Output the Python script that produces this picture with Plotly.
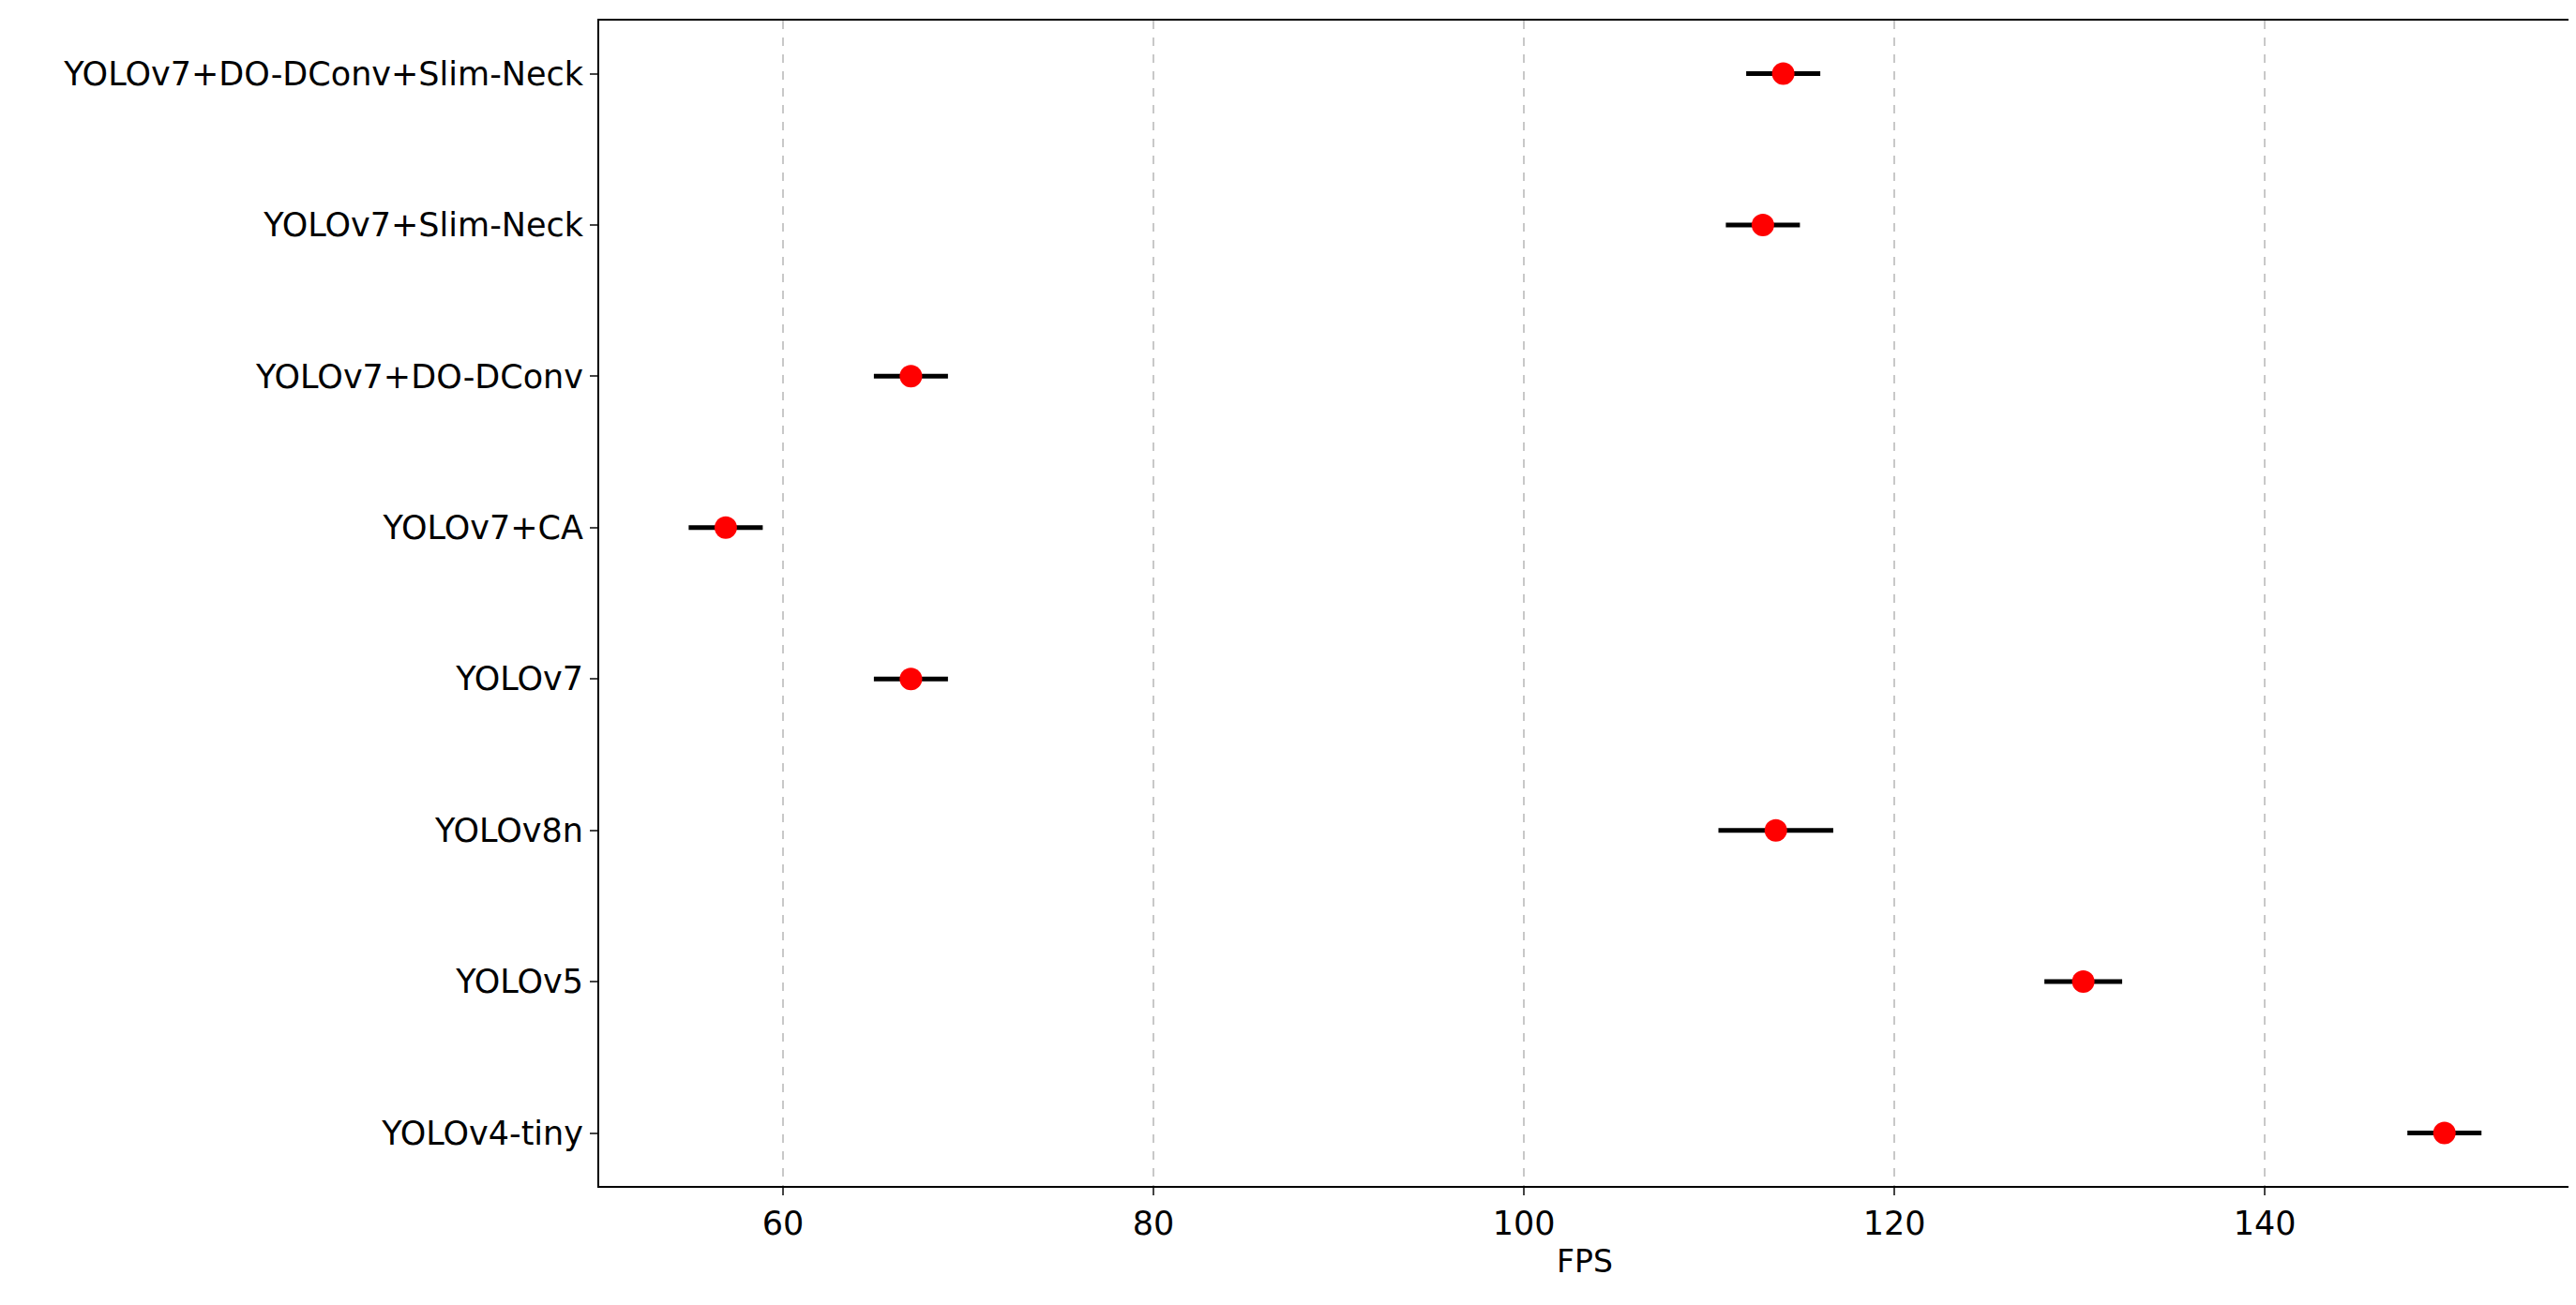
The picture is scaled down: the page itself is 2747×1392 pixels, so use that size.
import plotly.graph_objects as go

models = ["YOLOv4-tiny", "YOLOv5", "YOLOv8n", "YOLOv7", "YOLOv7+CA",
          "YOLOv7+DO-DConv", "YOLOv7+Slim-Neck", "YOLOv7+DO-DConv+Slim-Neck"]
fps = [149.7, 130.2, 113.6, 66.9, 56.9, 66.9, 112.9, 114.0]
err = [2.0, 2.1, 3.1, 2.0, 2.0, 2.0, 2.0, 2.0]
xticks = [60, 80, 100, 120, 140]

fig = go.Figure()
fig.add_trace(go.Scatter(
    x=fps, y=models, mode="markers",
    marker=dict(color="red", size=24),
    error_x=dict(type="data", array=err, color="black", thickness=5, width=0),
))
fig.update_layout(
    width=2747, height=1392, paper_bgcolor="white", plot_bgcolor="white",
    margin=dict(l=631, r=14, t=14, b=135), showlegend=False,
    font=dict(family="DejaVu Sans", size=35, color="black"),
)
fig.update_xaxes(range=[50.07, 156.5], tickvals=xticks, showgrid=True,
                 gridcolor="#c8c8c8", griddash="dash", gridwidth=2,
                 showline=True, linecolor="black", linewidth=2, mirror=True,
                 ticks="outside", ticklen=8, tickwidth=2, zeroline=False,
                 title=dict(text="FPS", font=dict(size=33), standoff=10))
fig.update_yaxes(type="category", categoryorder="array", categoryarray=models,
                 range=[-0.35, 7.35], showgrid=False, showline=True,
                 linecolor="black", linewidth=2, mirror=True,
                 ticks="outside", ticklen=8, tickwidth=2)
fig.write_html("out.html")
